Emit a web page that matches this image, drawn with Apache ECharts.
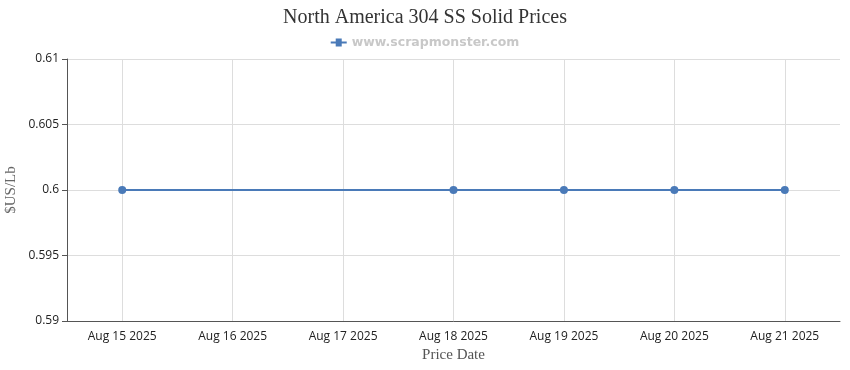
<!DOCTYPE html>
<html><head><meta charset="utf-8">
<script src="https://cdn.jsdelivr.net/npm/echarts@6/dist/echarts.min.js"></script>
<style>html,body{margin:0;padding:0;background:#fff}#c{width:850px;height:370px}</style>
</head><body><div id="c"></div>
<script>
const categories = ['Aug 15 2025','Aug 16 2025','Aug 17 2025','Aug 18 2025','Aug 19 2025','Aug 20 2025','Aug 21 2025'];
const prices = [0.6, null, null, 0.6, 0.6, 0.6, 0.6];
const seriesName = 'www.scrapmonster.com';
const chart = echarts.init(document.getElementById('c'));
chart.setOption({
  animation: false,
  title: {text: 'North America 304 SS Solid Prices', left: 'center', top: 3,
    textStyle: {fontFamily: 'Liberation Serif', fontSize: 20, fontWeight: 'normal', color: '#333'}},
  legend: {top: 31, left: 'center', itemWidth: 16, itemHeight: 8, itemGap: 6,
    textStyle: {fontFamily: 'DejaVu Sans', fontSize: 12.5, fontWeight: 'bold', color: '#c8c8c8'},
    data: [{name: seriesName, icon: 'path://M0,3 L5,3 L5,0 L11,0 L11,3 L16,3 L16,5 L11,5 L11,8 L5,8 L5,5 L0,5 Z'}]},
  grid: {left: 67, right: 10, top: 59, bottom: 49, outerBoundsMode: 'none', containLabel: false},
  xAxis: {type: 'category', data: categories, boundaryGap: true,
    name: 'Price Date', nameLocation: 'middle', nameGap: 27,
    nameTextStyle: {fontFamily: 'Liberation Serif', fontSize: 15, color: '#555'},
    axisLine: {lineStyle: {color: '#555'}},
    axisTick: {alignWithLabel: true, length: 5, lineStyle: {color: '#555'}},
    axisLabel: {fontFamily: 'Open Sans', fontSize: 12, color: '#222', margin: 10},
    splitLine: {show: true, alignWithLabel: true, lineStyle: {color: '#ddd'}}},
  yAxis: {type: 'value', min: 0.59, max: 0.61, interval: 0.005,
    name: '$US/Lb', nameLocation: 'middle', nameGap: 48, nameRotate: 90, nameMoveOverlap: false,
    nameTextStyle: {fontFamily: 'Liberation Serif', fontSize: 15, color: '#666'},
    axisLine: {show: true, lineStyle: {color: '#555'}},
    axisTick: {show: true, length: 5, lineStyle: {color: '#555'}},
    axisLabel: {fontFamily: 'Open Sans', fontSize: 12, color: '#222', margin: 8},
    splitLine: {lineStyle: {color: '#ddd'}}},
  series: [{name: seriesName, type: 'line', data: prices, connectNulls: true,
    symbol: 'circle', symbolSize: 8,
    itemStyle: {color: '#4a7ab8'}, lineStyle: {color: '#4a7ab8', width: 2}}]
});
</script></body></html>
